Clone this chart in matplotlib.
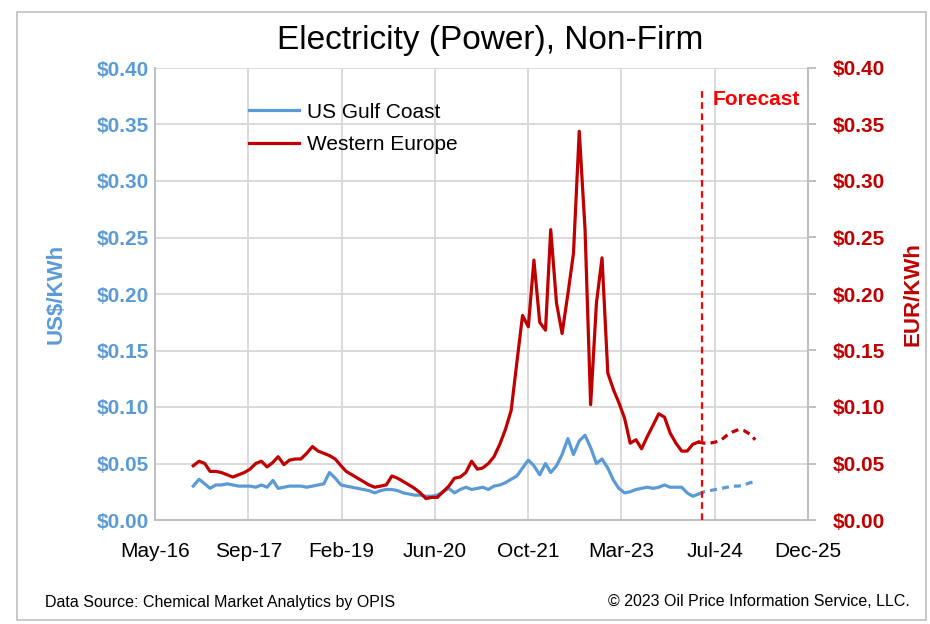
import pandas as pd
import matplotlib
matplotlib.use("Agg")
import matplotlib.pyplot as plt
import matplotlib.dates as mdates
from matplotlib.patches import Rectangle

plt.rcParams['font.family'] = ['Liberation Sans', 'DejaVu Sans']

# monthly history, Dec-2016 .. May-2024
hist_start = '2016-12-01'
us_gulf = [0.030, 0.036, 0.032, 0.028, 0.031, 0.031, 0.032, 0.031, 0.030, 0.030,
           0.030, 0.029, 0.031, 0.029, 0.035, 0.028, 0.029, 0.030, 0.030, 0.030,
           0.029, 0.030, 0.031, 0.032, 0.042, 0.037, 0.031, 0.030, 0.029, 0.028,
           0.027, 0.026, 0.024, 0.026, 0.027, 0.027, 0.026, 0.024, 0.023, 0.022,
           0.022, 0.021, 0.021, 0.022, 0.025, 0.028, 0.024, 0.027, 0.029, 0.027,
           0.028, 0.029, 0.027, 0.030, 0.031, 0.033, 0.036, 0.039, 0.046, 0.053,
           0.048, 0.040, 0.050, 0.042, 0.048, 0.058, 0.072, 0.058, 0.070, 0.075,
           0.064, 0.050, 0.054, 0.046, 0.035, 0.028, 0.024, 0.025, 0.027, 0.028,
           0.029, 0.028, 0.029, 0.031, 0.029, 0.029, 0.029, 0.024, 0.021, 0.023]
w_europe = [0.048, 0.052, 0.050, 0.043, 0.043, 0.042, 0.040, 0.038, 0.040, 0.042,
            0.045, 0.050, 0.052, 0.047, 0.051, 0.056, 0.049, 0.053, 0.054, 0.054,
            0.059, 0.065, 0.061, 0.059, 0.057, 0.054, 0.048, 0.043, 0.040, 0.037,
            0.034, 0.031, 0.029, 0.030, 0.031, 0.039, 0.037, 0.034, 0.031, 0.028,
            0.024, 0.019, 0.020, 0.020, 0.025, 0.030, 0.037, 0.038, 0.042, 0.052,
            0.045, 0.046, 0.050, 0.056, 0.067, 0.080, 0.097, 0.140, 0.181, 0.171,
            0.230, 0.175, 0.168, 0.257, 0.192, 0.165, 0.200, 0.236, 0.344, 0.257,
            0.102, 0.192, 0.232, 0.130, 0.115, 0.104, 0.090, 0.068, 0.071, 0.063,
            0.074, 0.084, 0.094, 0.091, 0.077, 0.068, 0.061, 0.061, 0.067, 0.069]

# forecast, May-2024 .. Mar-2025
fc_start = '2024-05-01'
us_gulf_fc = [0.023, 0.025, 0.026, 0.027, 0.028, 0.029, 0.030, 0.030, 0.031, 0.033, 0.034]
w_europe_fc = [0.069, 0.068, 0.068, 0.069, 0.071, 0.075, 0.078, 0.080, 0.079, 0.076, 0.071]

forecast_line = '2024-05-20'

# Excel-style date axis: 42500 .. 46000, major unit 500 days
excel0 = pd.Timestamp('1899-12-30')
tick_dates = [excel0 + pd.Timedelta(days=d) for d in range(42500, 46001, 500)]

blue = '#5B9BD5'
red = '#C00000'

hist_dates = pd.date_range(hist_start, periods=len(us_gulf), freq='MS')
fc_dates = pd.date_range(fc_start, periods=len(us_gulf_fc), freq='MS')

fig = plt.figure(figsize=(9.3, 6.24), dpi=100)
ax = fig.add_axes([155/930, 1-520/624, (808-155)/930, (520-68)/624])
ax2 = ax.twinx()

ax.plot(hist_dates, us_gulf, color=blue, lw=2.3, label='US Gulf Coast', zorder=3)
ax.plot(fc_dates, us_gulf_fc, color=blue, lw=2.3, ls=(0, (2.2, 1.6)), zorder=3)
ax2.plot(hist_dates, w_europe, color=red, lw=2.3, label='Western Europe', zorder=3)
ax2.plot(fc_dates, w_europe_fc, color=red, lw=2.3, ls=(0, (2.2, 1.6)), zorder=3)

for a in (ax, ax2):
    a.set_ylim(0, 0.40)
    a.set_yticks([i*0.05 for i in range(9)])
    a.set_xlim(tick_dates[0], tick_dates[-1])

ax.set_xticks(tick_dates)
ax.xaxis.set_major_formatter(mdates.DateFormatter('%b-%y'))
ax.grid(True, color='#D9D9D9', lw=1.4)
ax.set_axisbelow(True)

ax.yaxis.set_major_formatter(plt.FuncFormatter(lambda v, p: '$%.2f' % v))
ax2.yaxis.set_major_formatter(plt.FuncFormatter(lambda v, p: '$%.2f' % v))

ax.tick_params(axis='y', colors=blue, labelsize=15, length=0, pad=4)
ax2.tick_params(axis='y', colors='#BFBFBF', labelcolor=red, labelsize=15, length=6, width=1.4, pad=12)
ax.tick_params(axis='x', labelsize=15, length=0, pad=16)
for lab in ax.get_yticklabels():
    lab.set_fontweight('bold')
for lab in ax2.get_yticklabels():
    lab.set_fontweight('bold')

for a in (ax, ax2):
    a.spines['top'].set_visible(False)
    a.spines['left'].set_color('#BFBFBF')
    a.spines['bottom'].set_color('#BFBFBF')
    a.spines['right'].set_color('#BFBFBF')
    for s in a.spines.values():
        s.set_linewidth(1.4)

ax.set_ylabel('US$/KWh', color=blue, fontsize=16, fontweight='bold', labelpad=22)
ax2.set_ylabel('EUR/KWh', color=red, fontsize=16, fontweight='bold', labelpad=12)

ax2.axvline(pd.Timestamp(forecast_line), ymin=0, ymax=0.955, color='#FF0000', lw=1.6, ls=(0, (3, 2)), zorder=4)
ax2.text(pd.Timestamp(forecast_line) + pd.Timedelta(days=55), 0.3725, 'Forecast', color='#FF0000',
         fontsize=15, fontweight='bold', ha='left', va='center')

h1, l1 = ax.get_legend_handles_labels()
h2, l2 = ax2.get_legend_handles_labels()
ax2.legend(h1 + h2, l1 + l2, loc='upper left', bbox_to_anchor=(0.115, 0.965), frameon=False,
           fontsize=15, handlelength=2.4, handletextpad=0.4, labelspacing=0.65)

fig.text(490/930, 1-40/624, 'Electricity (Power), Non-Firm', ha='center', va='center', fontsize=24)
fig.text(45/930, 1-602/624, 'Data Source: Chemical Market Analytics by OPIS', ha='left', va='center', fontsize=11.5)
fig.text(910/930, 1-602/624, '\u00a9 2023 Oil Price Information Service, LLC.', ha='right', va='center', fontsize=11.5)

fig.patches.append(Rectangle((17/930, 1-620/624), (926-17)/930, (620-12)/624, transform=fig.transFigure,
                             fill=False, edgecolor='#BFBFBF', lw=1.2))

fig.savefig('out.png', dpi=100)
